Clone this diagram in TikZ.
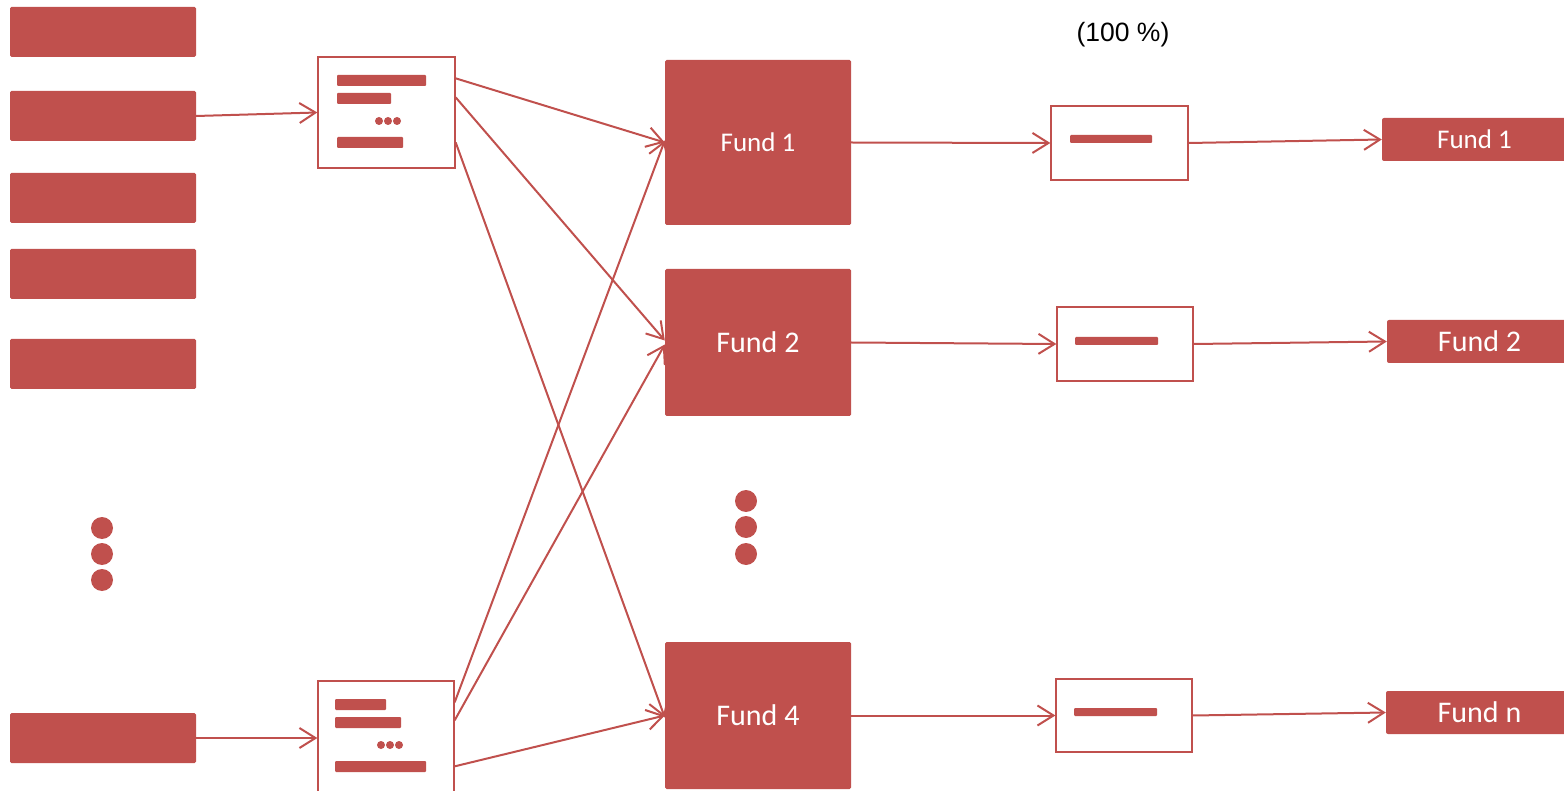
\documentclass[tikz,border=0pt]{standalone}
\usepackage{fontspec}
\setmainfont{Carlito}
\newfontfamily\arialf{Liberation Sans}
\usetikzlibrary{arrows.meta}
\definecolor{fr}{HTML}{C0504D}
\tikzset{
  src/.style={fill=fr,draw=none,rounded corners=1.5pt,minimum width=186pt,minimum height=50pt,inner sep=0pt},
  docbox/.style={draw=fr,line width=1.3pt,fill=white,inner sep=0pt},
  bar/.style={fill=fr,draw=none,rounded corners=1pt},
  fundbox/.style={fill=fr,draw=none,rounded corners=1.5pt,minimum width=186pt,inner sep=0pt,text=white,font=\fontsize{30}{34}\selectfont},
  outbox/.style={fill=fr,draw=none,rounded corners=2pt,minimum height=43pt,inner sep=0pt,text=white,font=\fontsize{30}{34}\selectfont},
  bigdot/.style={circle,fill=fr,draw=none,minimum size=22pt,inner sep=0pt},
  smalldot/.style={circle,fill=fr,draw=none,minimum size=8pt,inner sep=0pt},
  flow/.style={draw=fr,line width=2pt,-{Straight Barb[length=16pt,width=20pt,line width=2pt]}},
}
\begin{document}
\begin{tikzpicture}[x=1pt,y=-1pt]
\useasboundingbox (0,0) rectangle (1564,791);
% left sources
\node[src] (s1) at (103,32) {};
\node[src] (s2) at (103,116) {};
\node[src] (s3) at (103,198) {};
\node[src] (s4) at (103,274) {};
\node[src] (s5) at (103,364) {};
\node[src] (s6) at (103,738) {};
\node[bigdot] (ld1) at (102,528) {};
\node[bigdot] (ld2) at (102,554) {};
\node[bigdot] (ld3) at (102,580) {};
% document boxes
\node[docbox,minimum width=137pt,minimum height=111pt] (d1) at (386.5,112.5) {};
\node[docbox,minimum width=136pt,minimum height=112pt] (d2) at (386,737) {};
\fill[bar] (337,75) rectangle (426,86);
\fill[bar] (337,93) rectangle (391,104);
\node[smalldot] (d1a) at (379,121) {};
\node[smalldot] (d1b) at (388,121) {};
\node[smalldot] (d1c) at (397,121) {};
\fill[bar] (337,137) rectangle (403,148);
\fill[bar] (335,699) rectangle (386,710);
\fill[bar] (335,717) rectangle (401,728);
\node[smalldot] (d2a) at (381,745) {};
\node[smalldot] (d2b) at (390,745) {};
\node[smalldot] (d2c) at (399,745) {};
\fill[bar] (335,761) rectangle (426,772);
% funds
\node[fundbox,minimum height=165pt,font=\fontsize{27}{31}\selectfont] (f1) at (758,142.5) {Fund 1};
\node[fundbox,minimum height=147pt] (f2) at (758,342.5) {Fund 2};
\node[fundbox,minimum height=147pt] (f4) at (758,715.5) {Fund 4};
\node[bigdot] (md1) at (746,501) {};
\node[bigdot] (md2) at (746,527) {};
\node[bigdot] (md3) at (746,554) {};
% small boxes
\node[docbox,minimum width=137pt,minimum height=74pt] (b1) at (1119.5,143) {};
\node[docbox,minimum width=136pt,minimum height=74pt] (b2) at (1125,344) {};
\node[docbox,minimum width=136pt,minimum height=73pt] (b3) at (1124,715.5) {};
\fill[bar] (1070,135) rectangle (1152,143);
\fill[bar] (1075,337) rectangle (1158,345);
\fill[bar] (1074,708) rectangle (1157,716);
% outputs
\node[outbox,minimum width=188pt,font=\fontsize{27}{31}\selectfont] (o1) at (1476,139.5) {Fund 1\hspace*{3pt}};
\node[outbox,minimum width=183pt] (o2) at (1478.5,341.5) {\hspace*{2pt}Fund 2};
\node[outbox,minimum width=184pt] (on) at (1478,712.5) {\hspace*{3pt}Fund n};
% label
\node[font=\arialf\fontsize{26.5}{30}\selectfont,inner sep=0pt] (pct) at (1123,35) {(100 \%)};
% connectors
\draw[flow] (s2.east) -- (d1.west);
\draw[flow] (s6.east) -- (d2.west |- s6.east);
\draw[flow] ([yshift=-22pt]d1.north east) -- ([yshift=0pt]f1.west);
\draw[flow] ([yshift=-41pt]d1.north east) -- ([yshift=2pt]f2.west);
\draw[flow] ([yshift=-86pt]d1.north east) -- ([yshift=-2pt]f4.west);
\draw[flow] ([yshift=-22pt]d2.north east) -- ([yshift=2pt]f1.west);
\draw[flow] ([yshift=-40pt]d2.north east) -- ([yshift=-2pt]f2.west);
\draw[flow] ([yshift=-86pt]d2.north east) -- (f4.west);
\draw[flow] (f1.east) -- (b1.west);
\draw[flow] (b1.east) -- (o1.west);
\draw[flow] (f2.east) -- (b2.west);
\draw[flow] (b2.east) -- (o2.west);
\draw[flow] (f4.east) -- (b3.west);
\draw[flow] (b3.east) -- (on.west);
\end{tikzpicture}
\end{document}
